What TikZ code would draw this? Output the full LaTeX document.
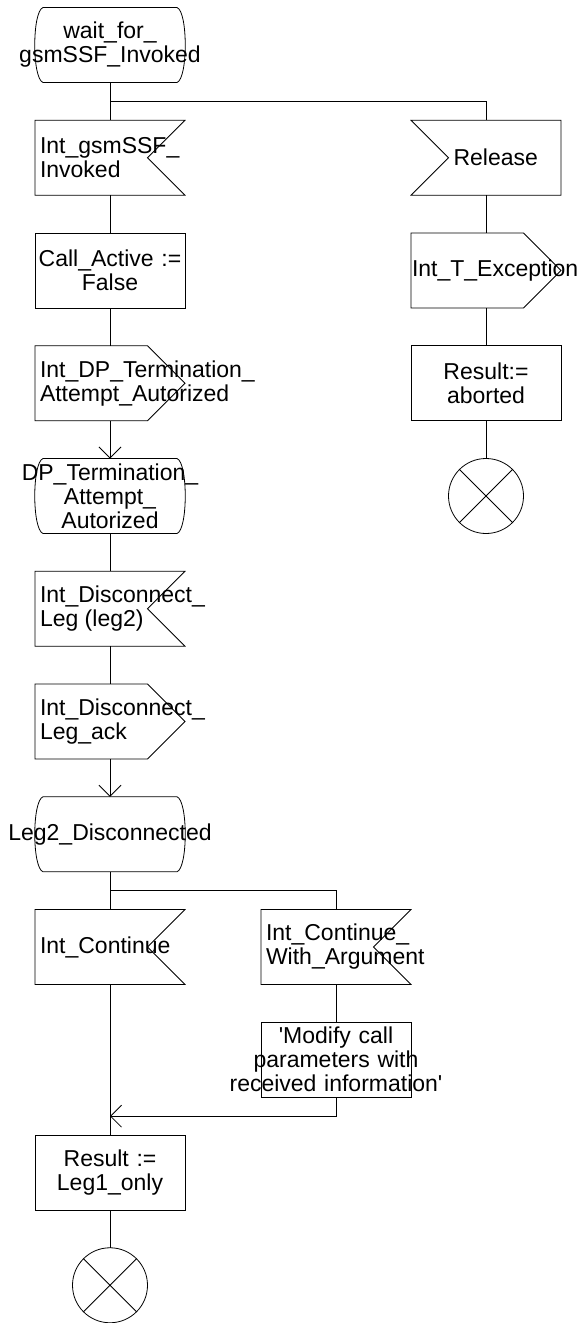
\documentclass[tikz,border=0pt]{standalone}
\usepackage{fontspec}
\setmainfont{Liberation Sans}
\usepackage{tikz}
\usetikzlibrary{calc, positioning, arrows.meta}
\hyphenpenalty=10000
\exhyphenpenalty=10000

\newcommand{\wideline}[1]{\makebox[\hsize]{#1}}
\newcommand{\statesym}[1]{\draw ([xshift=8pt]#1.north west) -- ([xshift=-8pt]#1.north east)
  .. controls ([xshift=3pt,yshift=-4pt]#1.north east) and ([xshift=3pt,yshift=4pt]#1.south east) .. ([xshift=-8pt]#1.south east)
  -- ([xshift=8pt]#1.south west)
  .. controls ([xshift=-3pt,yshift=4pt]#1.south west) and ([xshift=-3pt,yshift=-4pt]#1.north west) .. ([xshift=8pt]#1.north west) -- cycle;}
\newcommand{\insym}[1]{\draw (#1.north west) -- (#1.north east) -- ([xshift=-37.5pt]#1.east) -- (#1.south east) -- (#1.south west) -- cycle;}
\newcommand{\inlsym}[1]{\draw (#1.north west) -- (#1.north east) -- (#1.south east) -- (#1.south west) -- ([xshift=37.5pt]#1.west) -- cycle;}
\newcommand{\outsym}[1]{\draw (#1.north west) -- ([xshift=-37.5pt]#1.north east) -- (#1.east) -- ([xshift=-37.5pt]#1.south east) -- (#1.south west) -- cycle;}

\begin{document}
\begin{tikzpicture}[x=1pt, y=-1pt, node distance=37.75pt, line width=0.8pt,
    every node/.style={font=\fontsize{23}{24}\selectfont, inner sep=0pt, outer sep=0pt},
    shapebox/.style={minimum width=150pt, minimum height=75pt},
    statebox/.style={shapebox, text width=150pt, align=center},
    taskbox/.style={shapebox, draw, text width=150pt, align=center},
    sigbox/.style={shapebox, text width=140pt, inner xsep=5pt, align=flush left},
    stopbox/.style={circle, draw, minimum size=75pt,
      path picture={\draw (path picture bounding box.north west) -- (path picture bounding box.south east)
        (path picture bounding box.north east) -- (path picture bounding box.south west);}},
    flow/.style={-{Straight Barb[length=11pt,width=22pt]}}]
  \useasboundingbox (0,0) rectangle (585,1323);

  % main column
  \node[statebox] (wait) at (110,45) {wait\_for\_\\\wideline{gsmSSF\_Invoked}};
  \node[sigbox, below=of wait] (ingsm) {Int\_gsmSSF\_\\Invoked};
  \node[taskbox, below=of ingsm] (callact) {Call\_Active :=\\False};
  \node[sigbox, below=of callact] (intdp) {Int\_DP\_Termination\_\\Attempt\_Autorized};
  \node[statebox, below=of intdp] (dpterm) {\wideline{DP\_Termination\_}\\Attempt\_\\Autorized};
  \node[sigbox, below=of dpterm] (disc) {Int\_Disconnect\_\\Leg (leg2)};
  \node[sigbox, below=of disc] (discack) {Int\_Disconnect\_\\Leg\_ack};
  \node[statebox, below=of discack] (leg2) {\wideline{Leg2\_Disconnected}};
  \node[sigbox, below=of leg2] (cont) {Int\_Continue};
  \node[taskbox, below=150.5pt of cont] (res1) {Result :=\\Leg1\_only};
  \node[stopbox, below=of res1] (stop1) {};

  % release branch
  \node[sigbox, right=226pt of ingsm] (release) {\hspace*{37.5pt}Release};
  \node[sigbox, below=of release, inner xsep=1pt, text width=148pt] (texc) {Int\_T\_Exception};
  \node[taskbox, below=of texc] (res2) {Result:=\\aborted};
  \node[stopbox, below=of res2] (stop2) {};

  % continue with argument branch
  \node[sigbox, right=76pt of cont] (contarg) {Int\_Continue\_\\With\_Argument};
  \node[taskbox, below=of contarg] (modify) {\textquotesingle Modify call\\\wideline{parameters with}\\\wideline{received information\textquotesingle}};

  % symbol outlines
  \statesym{wait} \statesym{dpterm} \statesym{leg2}
  \insym{ingsm} \insym{disc} \insym{cont} \insym{contarg}
  \outsym{intdp} \outsym{discack} \outsym{texc}
  \inlsym{release}

  \coordinate (br1) at ($(wait.south)!0.5!(ingsm.north)$);
  \coordinate (br2) at ($(leg2.south)!0.5!(cont.north)$);
  \coordinate (m1) at ($(res1.north)!0.5!(res1.north |- modify.south)$);

  \draw (wait) -- (ingsm);
  \draw (br1) -| (release);
  \draw (ingsm) -- (callact);
  \draw (callact) -- (intdp);
  \draw[flow] (intdp) -- (dpterm);
  \draw (dpterm) -- (disc);
  \draw (disc) -- (discack);
  \draw[flow] (discack) -- (leg2);
  \draw (leg2) -- (cont);
  \draw (br2) -| (contarg);
  \draw (contarg) -- (modify);
  \draw (cont) -- (res1);
  \draw[flow] (modify) |- (m1);
  \draw (res1) -- (stop1);
  \draw (release) -- (texc);
  \draw (texc) -- (res2);
  \draw (res2) -- (stop2);
\end{tikzpicture}
\end{document}
